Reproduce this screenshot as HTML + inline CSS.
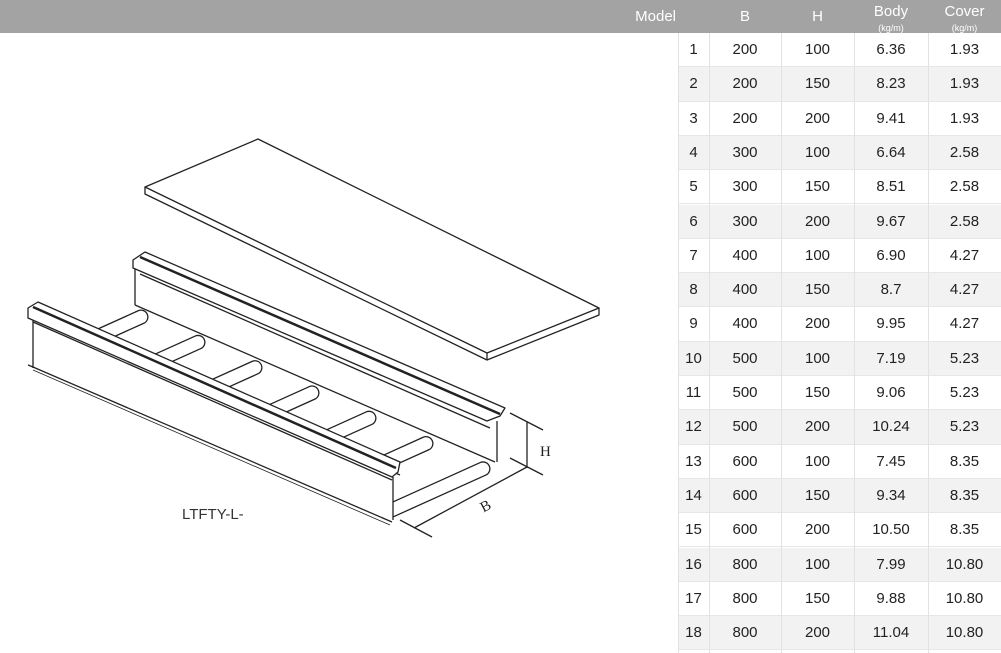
<!DOCTYPE html>
<html><head><meta charset="utf-8"><style>
body{margin:0;width:1001px;height:653px;background:#fff;position:relative;overflow:hidden;font-family:"Liberation Sans",Arial,sans-serif}
.hdr{position:absolute;left:0;top:0;width:1001px;height:33px;background:#a3a3a3}
.hc{position:absolute;top:0;height:33px;color:#fff;font-size:15px;text-align:center;line-height:33px}
.sub{position:absolute;top:0;color:#fff;text-align:center;line-height:1}
.row{position:absolute;left:678px;width:323px;height:34.3px}
.c{position:absolute;top:0;height:100%;font-size:15px;color:#222;text-align:center;line-height:34px}
.vl{position:absolute;top:33px;width:1px;height:620px;background:#e2e2e2}
</style></head><body>
<div class="hdr"></div>
<div class="hc" style="left:610px;width:66px;text-align:right">Model</div>
<div class="hc" style="left:709px;width:72px">B</div>
<div class="hc" style="left:781px;width:73px">H</div>
<div class="sub" style="left:854px;width:74px;top:4px;font-size:15px">Body<br><span style="font-size:9px">(kg/m)</span></div>
<div class="sub" style="left:928px;width:73px;top:4px;font-size:15px">Cover<br><span style="font-size:9px">(kg/m)</span></div>
<div id="rows"></div>
<script>
var d=[[200,100,"6.36","1.93"],[200,150,"8.23","1.93"],[200,200,"9.41","1.93"],[300,100,"6.64","2.58"],[300,150,"8.51","2.58"],[300,200,"9.67","2.58"],[400,100,"6.90","4.27"],[400,150,"8.7","4.27"],[400,200,"9.95","4.27"],[500,100,"7.19","5.23"],[500,150,"9.06","5.23"],[500,200,"10.24","5.23"],[600,100,"7.45","8.35"],[600,150,"9.34","8.35"],[600,200,"10.50","8.35"],[800,100,"7.99","10.80"],[800,150,"9.88","10.80"],[800,200,"11.04","10.80"]];
var h="";
d.forEach(function(r,i){
 var y=33+i*34.3;
 h+='<div class="row" style="top:'+y+'px;background:'+(i%2?'#f2f2f2':'#fff')+';border-bottom:1px solid #e6e6e6;box-sizing:border-box">'+
 '<div class="c" style="left:0;width:31px">'+(i+1)+'</div>'+
 '<div class="c" style="left:31px;width:72px">'+r[0]+'</div>'+
 '<div class="c" style="left:103px;width:73px">'+r[1]+'</div>'+
 '<div class="c" style="left:176px;width:74px">'+r[2]+'</div>'+
 '<div class="c" style="left:250px;width:73px">'+r[3]+'</div></div>';
});
[678,709,781,854,928].forEach(function(x){h+='<div class="vl" style="left:'+x+'px"></div>'});
document.getElementById("rows").innerHTML=h;
</script>
<svg width="620" height="653" style="position:absolute;left:0;top:0" fill="none" stroke="#222" stroke-width="1.3" stroke-linejoin="round">
<polygon points="145,187 258,139 599,308 487,353" fill="#fff"/>
<polyline points="145,187 145,194 487,360 599,315 599,308"/>
<line x1="487" y1="353" x2="487" y2="360"/>
<line x1="135" y1="268" x2="135" y2="305"/>
<line x1="497" y1="421" x2="497" y2="462"/>
<line x1="140" y1="274" x2="490" y2="428"/>
<polygon points="133,260 145,252 505,408 500,416 487,421 133,268" fill="#fff"/>
<line x1="140" y1="257" x2="500" y2="414" stroke-width="2.5"/>
<line x1="135" y1="305" x2="495" y2="462"/>
<line x1="95" y1="340" x2="400" y2="475"/>
<g stroke-linecap="round">
<g id="rg">
<line x1="141" y1="317" x2="48" y2="359" stroke="#222" stroke-width="15"/>
<line x1="141" y1="317" x2="48" y2="359" stroke="#fff" stroke-width="12.4"/>
</g>
<use href="#rg" transform="translate(57,25.3)"/>
<use href="#rg" transform="translate(114,50.6)"/>
<use href="#rg" transform="translate(171,75.9)"/>
<use href="#rg" transform="translate(228,101.2)"/>
<use href="#rg" transform="translate(285,126.5)"/>
<use href="#rg" transform="translate(342,151.8)"/>
</g>
<polygon points="33,318 392,477 393,522 33,367" fill="#fff" stroke="none"/>
<line x1="33" y1="318" x2="33" y2="368"/>
<line x1="393" y1="477" x2="393" y2="520"/>
<polyline points="28,365 33,367 392,522"/>
<line x1="33" y1="370" x2="390" y2="525" stroke-width="0.8"/>
<line x1="33" y1="322" x2="392" y2="480"/>
<polygon points="28,308 38,302 400,462 398,472 392,477 28,318" fill="#fff"/>
<line x1="33" y1="307" x2="396" y2="468" stroke-width="2.5"/>
<line x1="510" y1="413" x2="543" y2="430"/>
<line x1="510" y1="458" x2="543" y2="475"/>
<line x1="527" y1="422" x2="527" y2="468"/>
<line x1="527" y1="467" x2="414" y2="528"/>
<line x1="400" y1="520" x2="432" y2="537"/>
<text x="540" y="456" font-family="Liberation Serif,serif" font-size="15" fill="#222" stroke="none">H</text>
<text x="480" y="511" font-family="Liberation Serif,serif" font-size="15" fill="#222" stroke="none" transform="rotate(-28 485 505)">B</text>
<text x="182" y="519" font-family="Liberation Sans,sans-serif" font-size="15" fill="#333" stroke="none">LTFTY-L-</text>
</svg>
</body></html>
